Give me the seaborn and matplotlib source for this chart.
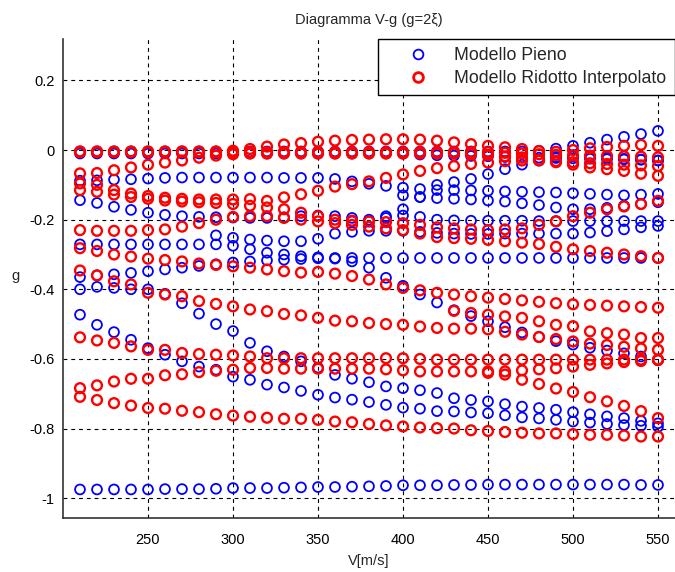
import numpy as np
import pandas as pd
import matplotlib
matplotlib.use("Agg")
import matplotlib.pyplot as plt
from matplotlib.lines import Line2D
import seaborn as sns

nan = np.nan
V = list(range(210, 551, 10))

# ---- Modello Pieno (blue) : damping g per mode ----
b_01 = [-0.004]*27 + [-0.002, 0.004, 0.012, 0.021, 0.030, 0.038, 0.046, 0.055]
b_02 = [-0.010]*20 + [-0.013, -0.015, -0.016, -0.017, -0.018, -0.020, -0.021, -0.022, -0.023,
                      -0.024, -0.025, -0.026, -0.027, -0.028, -0.030]
b_03 = [-0.088, -0.087, -0.085, -0.084, -0.082, -0.080, -0.079, -0.079, -0.079, -0.079,
        -0.079, -0.079, -0.080, -0.080, -0.080, -0.083, -0.090, -0.097, -0.103, -0.108,
        -0.112, -0.115, -0.115, -0.116, -0.117, -0.119, -0.120, -0.121, -0.122, -0.124,
        -0.126, -0.128, -0.130, -0.128, -0.126]
b_04 = [-0.144, -0.152, -0.163, -0.172, -0.180, -0.186, -0.190, -0.192, -0.193, -0.194,
        -0.195, -0.195, -0.193, -0.190, -0.188, -0.190, -0.195, -0.200, -0.190, -0.170,
        -0.135, -0.100, -0.092, -0.083, -0.069, -0.055, -0.042, -0.030, -0.020, -0.018,
        -0.020, -0.022, -0.025, -0.027, -0.030]
b_05 = [nan]*16 + [-0.205, -0.205, -0.195, -0.188, -0.192, -0.200, -0.202, -0.203, -0.203,
                   -0.203, -0.203, -0.204, -0.204, -0.204, -0.204, -0.204, -0.204, -0.204, -0.204]
b_06 = [-0.271, -0.271, -0.271, -0.271, -0.271, -0.271, -0.271, -0.271, -0.271, -0.275,
        -0.285, -0.295, -0.300, -0.305, -0.308, -0.312, -0.320, -0.338, -0.367, -0.390,
        -0.415, -0.438, -0.460, -0.477, -0.492, -0.509, -0.524, -0.537, -0.549, -0.559,
        -0.568, -0.576, -0.584, -0.593, -0.604]
b_07 = [-0.365, -0.360, -0.357, -0.353, -0.348, -0.343, -0.338, -0.333, -0.328, -0.323,
        -0.320, -0.317, -0.315, -0.313, -0.311] + [-0.310]*20
b_08 = [nan]*8 + [-0.245, -0.252, -0.257, -0.260, -0.262, -0.262, -0.255, -0.240, -0.235,
                  -0.232, -0.232, -0.232, -0.235, -0.238, -0.240, -0.241, -0.241, -0.240,
                  -0.240, -0.240, -0.240, -0.240, -0.237, -0.233, -0.228, -0.222, -0.218]
b_09 = [-0.400, -0.393, -0.396, -0.400, -0.400, -0.413, -0.440, -0.470, -0.500, -0.520,
        -0.554, -0.578, -0.593, -0.607, -0.625, -0.646, -0.657, -0.667, -0.679, -0.684,
        -0.690, -0.698, -0.713, -0.718, -0.722, -0.730, -0.737, -0.741, -0.746, -0.753,
        -0.759, -0.765, -0.770, -0.778, -0.785]
b_10 = [-0.473, -0.502, -0.523, -0.545, -0.569, -0.588, -0.607, -0.622, -0.631, -0.651,
        -0.660, -0.674, -0.682, -0.692, -0.703, -0.711, -0.717, -0.724, -0.732, -0.740,
        -0.743, -0.750, -0.751, -0.754, -0.756, -0.762, -0.768, -0.771, -0.775, -0.780,
        -0.783, -0.787, -0.790, -0.792, -0.795]
b_11 = [-0.975, -0.975, -0.975, -0.975, -0.975, -0.974, -0.974, -0.974, -0.973, -0.971,
        -0.971, -0.971, -0.970, -0.969, -0.968, -0.968, -0.967, -0.966, -0.965, -0.963,
        -0.963, -0.963, -0.962, -0.962, -0.961, -0.961, -0.961, -0.961, -0.961, -0.961,
        -0.961, -0.961, -0.961, -0.962, -0.962]
b_12 = [nan]*19 + [-0.130, -0.135, -0.138, -0.140, -0.142, -0.145, -0.148, -0.153, -0.158,
                   -0.165, -0.170, -0.170, -0.166, -0.160, -0.155, -0.150]

# ---- Modello Ridotto Interpolato (red) ----
r_01 = [-0.004]*9 + [-0.002, 0.003, 0.010, 0.016, 0.020, 0.024, 0.027, 0.029, 0.030, 0.031,
                     0.031, 0.030, 0.027, 0.022, 0.017, 0.012, 0.008, 0.003, -0.003, -0.005,
                     0.000, 0.005, 0.009, 0.012, 0.015, 0.012]
r_02 = [-0.006]*25 + [-0.008, -0.010, -0.012, -0.014, -0.015, -0.016, -0.017, -0.018,
                      -0.019, -0.021]
r_03 = [-0.067, -0.066, -0.058, -0.050, -0.042, -0.036, -0.030, -0.022, -0.016, -0.012,
        -0.010, -0.010, -0.010, -0.010, -0.010, -0.010, -0.010, -0.010, -0.010, -0.010,
        -0.010, -0.010, -0.010, -0.012, -0.014, -0.018, -0.022, -0.028, -0.035, -0.042,
        -0.050, -0.055, -0.060, -0.068, -0.074]
r_04 = [-0.096, -0.100, -0.115, -0.125, -0.132, -0.137, -0.140, -0.142, -0.142, -0.142,
        -0.141, -0.146, -0.136, -0.127, -0.117, -0.105, -0.098, -0.090, -0.080, -0.070,
        -0.060, -0.052, -0.046, -0.040, -0.036, -0.032, -0.030, -0.030, -0.032, -0.035,
        -0.038, -0.040, -0.042, -0.044, -0.046]
r_05 = [-0.115, -0.120, -0.128, -0.135, -0.140, -0.145, -0.148, -0.150, -0.152, -0.155,
        -0.160, -0.165, -0.170, -0.180, -0.190, -0.200, -0.203, -0.205, -0.207, -0.210,
        -0.215, -0.222, -0.225, -0.228, -0.230, -0.228, -0.225, -0.215, -0.205, -0.190,
        -0.180, -0.170, -0.162, -0.155, -0.146]
r_06 = [-0.230, -0.232, -0.232, -0.232, -0.230, -0.228, -0.220, -0.210, -0.200, -0.192,
        -0.190, -0.190, -0.195, -0.200, -0.205, -0.210, -0.215, -0.220, -0.225, -0.230,
        -0.240, -0.250, -0.253, -0.255, -0.258, -0.262, -0.266, -0.270, -0.278, -0.285,
        -0.290, -0.295, -0.300, -0.305, -0.310]
r_07 = [-0.282, -0.290, -0.300, -0.306, -0.312, -0.316, -0.320, -0.326, -0.330, -0.334,
        -0.338, -0.343, -0.348, -0.352, -0.350, -0.355, -0.362, -0.372, -0.386, -0.396,
        -0.403, -0.410, -0.415, -0.420, -0.424, -0.428, -0.432, -0.436, -0.440, -0.443,
        -0.445, -0.447, -0.449, -0.451, -0.453]
r_08 = [-0.346, -0.360, -0.377, -0.386, -0.410, -0.415, -0.420, -0.434, -0.442, -0.449,
        -0.458, -0.463, -0.471, -0.475, -0.482, -0.490, -0.492, -0.497, -0.500, -0.502,
        -0.507, -0.511, -0.513, -0.513, -0.515, -0.522, -0.530, -0.537, -0.543, -0.550,
        -0.556, -0.560, -0.565, -0.570, -0.574]
r_09 = [-0.538, -0.547, -0.554, -0.564, -0.574, -0.574, -0.583, -0.586, -0.588, -0.590,
        -0.593, -0.598, -0.598, -0.598, -0.598, -0.598, -0.598, -0.598, -0.598, -0.598,
        -0.600, -0.602, -0.602, -0.602, -0.602, -0.602, -0.602, -0.602, -0.602, -0.602,
        -0.602, -0.602, -0.602, -0.602, -0.602]
r_10 = [-0.684, -0.676, -0.665, -0.657, -0.657, -0.647, -0.644, -0.638, -0.634, -0.631,
        -0.626, -0.626, -0.628, -0.628, -0.628, -0.628, -0.628, -0.628, -0.630, -0.633,
        -0.636, -0.636, -0.636, -0.636, -0.636, -0.636, -0.633, -0.630, -0.627, -0.622,
        -0.617, -0.613, -0.609, -0.606, -0.603]
r_11 = [nan]*24 + [-0.640, -0.645, -0.660, -0.672, -0.685, -0.695, -0.710, -0.722, -0.735,
                   -0.750, -0.770]
r_12 = [nan]*22 + [-0.462, -0.468, -0.473, -0.478, -0.482, -0.492, -0.502, -0.506, -0.521,
                   -0.526, -0.530, -0.540, -0.540]
r_13 = [-0.709, -0.718, -0.727, -0.734, -0.741, -0.743, -0.749, -0.753, -0.759, -0.763,
        -0.766, -0.769, -0.772, -0.772, -0.775, -0.780, -0.782, -0.787, -0.791, -0.794,
        -0.797, -0.799, -0.800, -0.805, -0.807, -0.810, -0.812, -0.814, -0.814, -0.816,
        -0.818, -0.818, -0.820, -0.823, -0.823]

blue_modes = [b_01, b_02, b_03, b_04, b_05, b_06, b_07, b_08, b_09, b_10, b_11, b_12]
red_modes = [r_01, r_02, r_03, r_04, r_05, r_06, r_07, r_08, r_09, r_10, r_11, r_12, r_13]

labels = ["Modello Pieno", "Modello Ridotto Interpolato"]
x_ticks = [250, 300, 350, 400, 450, 500, 550]
y_ticks = [0.2, 0, -0.2, -0.4, -0.6, -0.8, -1]
y_tick_labels = ["0.2", "0", "-0.2", "-0.4", "-0.6", "-0.8", "-1"]


def to_frame(modes, label):
    rows = []
    for k, m in enumerate(modes):
        for v, g in zip(V, m):
            rows.append({"V": v, "g": g, "mode": k, "model": label})
    return pd.DataFrame(rows).dropna()


df_b = to_frame(blue_modes, labels[0])
df_r = to_frame(red_modes, labels[1])

sns.set_theme(style="white")
plt.rcParams["font.family"] = ["Liberation Sans", "DejaVu Sans"]
plt.rcParams["axes.unicode_minus"] = False

fig = plt.figure(figsize=(6.75, 5.72), dpi=100)
ax = fig.add_axes([63 / 675, 1 - 518 / 572, 1 - 63 / 675, (518 - 39) / 572])

BLUE = "#0000ff"
RED = "#ff0000"
ms = 50
lw_b, lw_r = 1.3, 1.7

sns.scatterplot(data=df_b, x="V", y="g", marker="o", s=ms, ax=ax, legend=False,
                color=BLUE, linewidth=lw_b, zorder=3)
sns.scatterplot(data=df_r, x="V", y="g", marker="o", s=ms, ax=ax, legend=False,
                color=RED, linewidth=lw_r, zorder=4)
cols = ax.collections
cols[0].set_facecolor("none"); cols[0].set_edgecolor(BLUE); cols[0].set_linewidth(lw_b)
cols[1].set_facecolor("none"); cols[1].set_edgecolor(RED); cols[1].set_linewidth(lw_r)

ax.set_xlim(200, 560)
ax.set_ylim(-1.057, 0.319)
ax.set_xticks(x_ticks)
ax.set_xticklabels([str(t) for t in x_ticks])
ax.set_yticks(y_ticks)
ax.set_yticklabels(y_tick_labels)

ax.grid(True, color="black", linestyle=(0, (3.5, 3.5)), linewidth=0.8)
ax.set_axisbelow(True)
for s in ["top", "right"]:
    ax.spines[s].set_visible(False)
for s in ["left", "bottom"]:
    ax.spines[s].set_color("#333333")
    ax.spines[s].set_linewidth(1.2)
ax.tick_params(direction="in", length=4, width=1, colors="#333333", labelcolor="black",
               labelsize=10.5)
ax.tick_params(axis="x", pad=11)
ax.tick_params(axis="y", pad=6)

ax.set_title("Diagramma V-g (g=2ξ)", fontsize=10.5, pad=11)
ax.set_xlabel("V[m/s]", fontsize=10.5, labelpad=5)
ax.set_ylabel("g", fontsize=10.5, rotation=0)
ax.yaxis.set_label_coords(-0.078, 0.49)

handles = [
    Line2D([], [], linestyle="", marker="o", markersize=7.0, markerfacecolor="none",
           markeredgecolor=BLUE, markeredgewidth=1.3),
    Line2D([], [], linestyle="", marker="o", markersize=7.0, markerfacecolor="none",
           markeredgecolor=RED, markeredgewidth=2.0),
]
leg = ax.legend(handles, labels, loc="upper left", bbox_to_anchor=(378 / 675, 1 - 39 / 572),
                bbox_transform=fig.transFigure, borderaxespad=0, fontsize=12.8,
                frameon=True, fancybox=False, framealpha=1, edgecolor="black",
                handlelength=3.6, handletextpad=0.25, labelspacing=0.35, borderpad=0.45)
leg.get_frame().set_linewidth(1.0)

fig.savefig("out.png", dpi=100)
